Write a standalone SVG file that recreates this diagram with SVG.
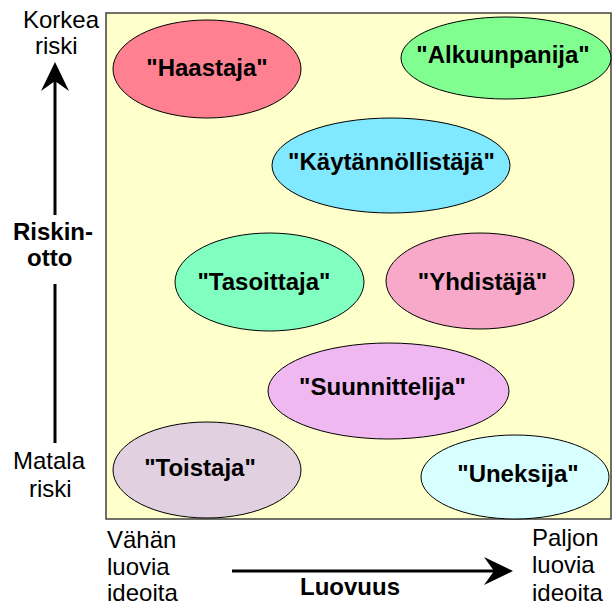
<svg xmlns="http://www.w3.org/2000/svg" width="612" height="606" viewBox="0 0 612 606">
<defs>
<marker id="ah" viewBox="-30 -15 31 30" refX="-19" refY="0" markerWidth="31" markerHeight="30" markerUnits="userSpaceOnUse" orient="auto">
<path d="M0,0 L-29,-14 L-19,0 L-29,14 Z" fill="#000"/>
</marker>
</defs>
<style>
.node ellipse{stroke:#000;stroke-width:1}
.node text{font-family:"Liberation Sans",Arial,sans-serif;font-weight:bold;font-size:24px;fill:#000;text-anchor:middle}
.lbl{font-family:"Liberation Sans",Arial,sans-serif;font-size:24px;fill:#000}
.b{font-weight:bold}
.conn line{stroke:#000;stroke-width:3;fill:none}
</style>
<rect width="612" height="606" fill="#fff"/>
<rect id="area" x="106" y="13" width="505" height="506" fill="#FFFFCC" stroke="#404040" stroke-width="1.5"/>
<g id="haastaja" class="node"><ellipse cx="207" cy="69" rx="94" ry="49" fill="#FF8090"/><text x="207" y="76">"Haastaja"</text></g>
<g id="alkuunpanija" class="node"><ellipse cx="506" cy="58" rx="105" ry="41" fill="#80FF90"/><text x="503" y="63">"Alkuunpanija"</text></g>
<g id="kaytannollistaja" class="node"><ellipse cx="391" cy="165.5" rx="119" ry="47.5" fill="#80E8FF"/><text x="391.5" y="170">"Käytännöllistäjä"</text></g>
<g id="tasoittaja" class="node"><ellipse cx="269.5" cy="282" rx="94.5" ry="49" fill="#80FFC0"/><text x="264" y="290">"Tasoittaja"</text></g>
<g id="yhdistaja" class="node"><ellipse cx="480" cy="281" rx="94" ry="48" fill="#F8A8C8"/><text x="482.5" y="290">"Yhdistäjä"</text></g>
<g id="suunnittelija" class="node"><ellipse cx="388.5" cy="391" rx="120.5" ry="48" fill="#F0B8F0"/><text x="382.5" y="395">"Suunnittelija"</text></g>
<g id="toistaja" class="node"><ellipse cx="207" cy="470" rx="94" ry="48" fill="#E0D0E0"/><text x="200" y="476">"Toistaja"</text></g>
<g id="uneksija" class="node"><ellipse cx="515" cy="477" rx="94" ry="42" fill="#D8FFFF"/><text x="518" y="482">"Uneksija"</text></g>
<g id="connectors" class="conn">
<line x1="55" y1="215" x2="55" y2="81" marker-end="url(#ah)"/>
<line x1="55" y1="284" x2="55" y2="443"/>
<line x1="232" y1="571" x2="494" y2="571" marker-end="url(#ah)"/>
</g>
<g id="labels">
<text class="lbl" x="23" y="28">Korkea</text>
<text class="lbl" x="35" y="54">riski</text>
<text class="lbl b" x="13" y="240">Riskin-</text>
<text class="lbl b" x="27" y="266">otto</text>
<text class="lbl" x="13" y="469">Matala</text>
<text class="lbl" x="29" y="497">riski</text>
<text class="lbl" x="107" y="548">Vähän</text>
<text class="lbl" x="107" y="575">luovia</text>
<text class="lbl" x="107" y="601">ideoita</text>
<text class="lbl" x="532" y="546">Paljon</text>
<text class="lbl" x="532" y="573">luovia</text>
<text class="lbl" x="532" y="601">ideoita</text>
<text class="lbl b" x="300" y="595">Luovuus</text>
</g>
</svg>
